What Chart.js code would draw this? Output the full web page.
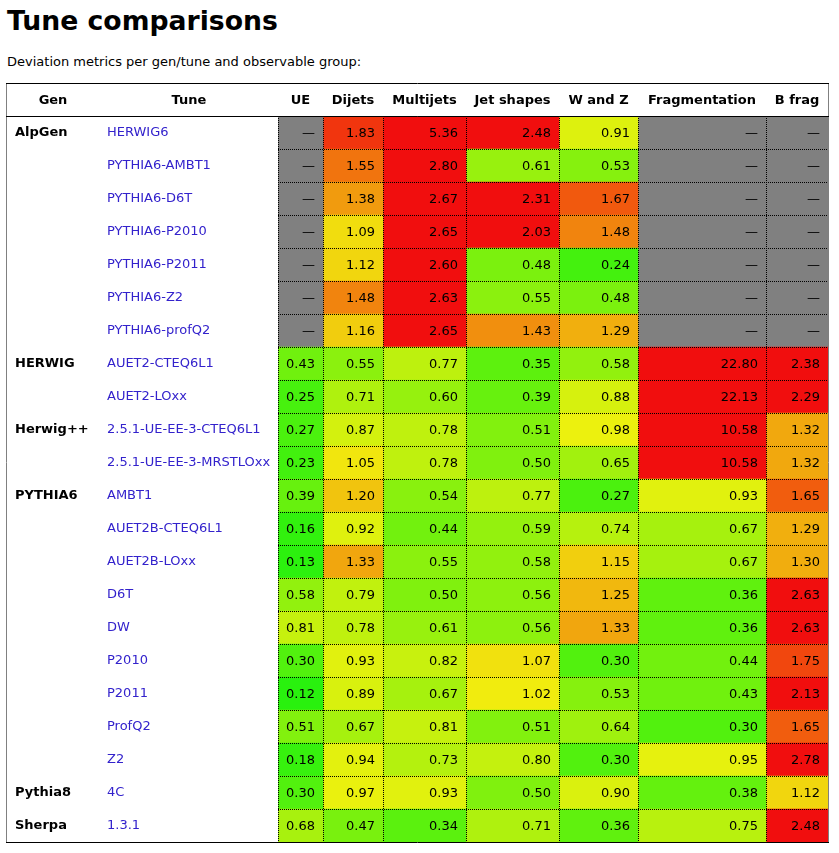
<!DOCTYPE html>
<html>
<head>
<meta charset="utf-8">
<title>Tune comparisons</title>
<script src="https://cdn.jsdelivr.net/npm/chart.js@4.4.1/dist/chart.umd.min.js"></script>
<style>
  html, body { margin: 0; padding: 0; background: #fff; }
  body { width: 839px; height: 853px; position: relative; overflow: hidden; font-family: "DejaVu Sans", sans-serif; }
  #title { position: absolute; left: 7px; top: 8px; font-size: 26.67px; line-height: 26.67px; font-weight: bold; color: #000; }
  #subtitle { position: absolute; left: 7px; top: 55px; font-size: 13px; line-height: 13px; color: #000; }
  #chart { position: absolute; left: 0; top: 0; }
</style>
</head>
<body>
<div id="title">Tune comparisons</div>
<div id="subtitle">Deviation metrics per gen/tune and observable group:</div>
<canvas id="chart" width="839" height="853"></canvas>
<script>
// generators and how many tune rows each one spans
const generators = ['AlpGen', 'HERWIG', 'Herwig++', 'PYTHIA6', 'Pythia8', 'Sherpa'];
const generatorRows = [7, 2, 2, 9, 1, 1];

const tunes = [
  'HERWIG6', 'PYTHIA6-AMBT1', 'PYTHIA6-D6T', 'PYTHIA6-P2010', 'PYTHIA6-P2011', 'PYTHIA6-Z2', 'PYTHIA6-profQ2',
  'AUET2-CTEQ6L1', 'AUET2-LOxx',
  '2.5.1-UE-EE-3-CTEQ6L1', '2.5.1-UE-EE-3-MRSTLOxx',
  'AMBT1', 'AUET2B-CTEQ6L1', 'AUET2B-LOxx', 'D6T', 'DW', 'P2010', 'P2011', 'ProfQ2', 'Z2',
  '4C',
  '1.3.1'
];

const groups = ['UE', 'Dijets', 'Multijets', 'Jet shapes', 'W and Z', 'Fragmentation', 'B frag'];

// deviation values per group (null = not available)
const ue = [null, null, null, null, null, null, null,
  0.43, 0.25, 0.27, 0.23,
  0.39, 0.16, 0.13, 0.58, 0.81, 0.30, 0.12, 0.51, 0.18,
  0.30, 0.68];
const dijets = [1.83, 1.55, 1.38, 1.09, 1.12, 1.48, 1.16,
  0.55, 0.71, 0.87, 1.05,
  1.20, 0.92, 1.33, 0.79, 0.78, 0.93, 0.89, 0.67, 0.94,
  0.97, 0.47];
const multijets = [5.36, 2.80, 2.67, 2.65, 2.60, 2.63, 2.65,
  0.77, 0.60, 0.78, 0.78,
  0.54, 0.44, 0.55, 0.50, 0.61, 0.82, 0.67, 0.81, 0.73,
  0.93, 0.34];
const jetShapes = [2.48, 0.61, 2.31, 2.03, 0.48, 0.55, 1.43,
  0.35, 0.39, 0.51, 0.50,
  0.77, 0.59, 0.58, 0.56, 0.56, 1.07, 1.02, 0.51, 0.80,
  0.50, 0.71];
const wAndZ = [0.91, 0.53, 1.67, 1.48, 0.24, 0.48, 1.29,
  0.58, 0.88, 0.98, 0.65,
  0.27, 0.74, 1.15, 1.25, 1.33, 0.30, 0.53, 0.64, 0.30,
  0.90, 0.36];
const fragmentation = [null, null, null, null, null, null, null,
  22.80, 22.13, 10.58, 10.58,
  0.93, 0.67, 0.67, 0.36, 0.36, 0.44, 0.43, 0.30, 0.95,
  0.38, 0.75];
const bFrag = [null, null, null, null, null, null, null,
  2.38, 2.29, 1.32, 1.32,
  1.65, 1.29, 1.30, 2.63, 2.63, 1.75, 2.13, 1.65, 2.78,
  1.12, 2.48];

const groupValues = [ue, dijets, multijets, jetShapes, wAndZ, fragmentation, bFrag];

// layout: column widths of the value columns
const colWidths = [45, 60, 83, 93, 79, 128, 62];
const colEdges = [0];
colWidths.forEach(w => colEdges.push(colEdges[colEdges.length - 1] + w));

const FONT = '"DejaVu Sans", sans-serif';
const TUNE_COLOR = '#3322cc';

// green (small deviation) -> yellow (~1) -> red (>= 2)
function heat(v) {
  if (v === null) return '#808080';
  const h = Math.max(0, Math.min(120, 60 * (2 - v)));
  return 'hsl(' + h.toFixed(1) + ', 89%, 50%)';
}

const datasets = groups.map((g, j) => ({
  label: g,
  data: tunes.map((t, i) => ({ x: [colEdges[j], colEdges[j + 1]], y: t })),
  backgroundColor: groupValues[j].map(heat),
  borderWidth: 0,
  borderSkipped: false,
  barPercentage: 1,
  categoryPercentage: 1,
  grouped: false
}));

const tablePlugin = {
  id: 'tableText',
  afterDatasetsDraw(chart) {
    const { ctx, chartArea: a, scales: { x, y } } = chart;
    const rowH = (a.bottom - a.top) / tunes.length;
    const rowTop = i => y.getPixelForValue(i) - rowH / 2;
    const tableLeft = 6, tableRight = a.right, headerTop = a.top - 33;

    ctx.save();

    // dotted cell borders
    ctx.strokeStyle = '#000';
    ctx.lineWidth = 1;
    ctx.setLineDash([1, 1]);
    for (let j = 0; j < colEdges.length - 1; j++) {
      const px = Math.round(x.getPixelForValue(colEdges[j])) + 0.5;
      ctx.beginPath(); ctx.moveTo(px, a.top); ctx.lineTo(px, a.bottom); ctx.stroke();
    }
    for (let i = 1; i < tunes.length; i++) {
      const py = Math.round(rowTop(i)) + 0.5;
      ctx.beginPath(); ctx.moveTo(a.left, py); ctx.lineTo(a.right, py); ctx.stroke();
    }
    ctx.setLineDash([]);

    // outer border
    ctx.strokeStyle = '#808080';
    ctx.beginPath(); ctx.moveTo(tableLeft + 0.5, headerTop); ctx.lineTo(tableLeft + 0.5, a.bottom); ctx.stroke();
    ctx.beginPath(); ctx.moveTo(tableRight + 0.5, headerTop); ctx.lineTo(tableRight + 0.5, a.bottom); ctx.stroke();
    ctx.strokeStyle = '#000';
    [headerTop + 0.5, a.top + 0.5, a.bottom + 0.5].forEach(py => {
      ctx.beginPath(); ctx.moveTo(tableLeft, py); ctx.lineTo(tableRight + 1, py); ctx.stroke();
    });

    // header row
    ctx.fillStyle = '#000';
    ctx.font = 'bold 13px ' + FONT;
    ctx.textAlign = 'center';
    ctx.textBaseline = 'alphabetic';
    const headBase = headerTop + 21;
    ctx.fillText('Gen', (tableLeft + a.left - 178) / 2, headBase);
    ctx.fillText('Tune', a.left - 89, headBase);
    groups.forEach((g, j) => {
      const cx = x.getPixelForValue((colEdges[j] + colEdges[j + 1]) / 2);
      ctx.fillText(g, cx, headBase);
    });

    // generator labels
    ctx.textAlign = 'left';
    let r = 0;
    generators.forEach((g, k) => {
      ctx.fillText(g, tableLeft + 9, rowTop(r) + 20);
      r += generatorRows[k];
    });

    // tune labels
    ctx.font = '13px ' + FONT;
    ctx.fillStyle = TUNE_COLOR;
    tunes.forEach((t, i) => ctx.fillText(t, a.left - 171, rowTop(i) + 20));

    // cell values
    ctx.fillStyle = '#000';
    ctx.textAlign = 'right';
    groupValues.forEach((vals, j) => {
      const rx = x.getPixelForValue(colEdges[j + 1]) - 8;
      vals.forEach((v, i) => {
        ctx.fillText(v === null ? '\u2014' : v.toFixed(2), rx, rowTop(i) + 21);
      });
    });

    ctx.restore();
  }
};

new Chart(document.getElementById('chart').getContext('2d'), {
  type: 'bar',
  data: { labels: tunes, datasets: datasets },
  options: {
    indexAxis: 'y',
    responsive: false,
    maintainAspectRatio: false,
    animation: false,
    events: [],
    layout: { padding: { left: 278, top: 116, right: 11, bottom: 11 } },
    plugins: { legend: { display: false }, tooltip: { enabled: false } },
    scales: {
      x: { type: 'linear', min: 0, max: colEdges[colEdges.length - 1], display: false },
      y: { type: 'category', labels: tunes, offset: true, display: false }
    }
  },
  plugins: [tablePlugin]
});
</script>
</body>
</html>
